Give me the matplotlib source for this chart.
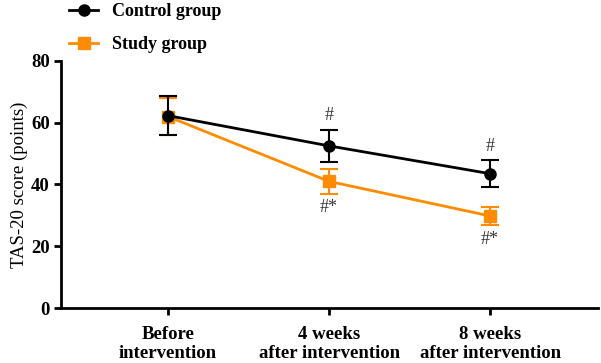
import matplotlib.pyplot as plt
import numpy as np

# Data
timepoints = ["Before\nintervention", "4 weeks\nafter intervention", "8 weeks\nafter intervention"]
control_mean = [62.3, 52.5, 43.5]
control_sd = [6.3, 5.2, 4.4]
study_mean = [62.0, 41.0, 29.8]
study_sd = [6.0, 4.0, 3.0]
control_marks = ["", "#", "#"]
study_marks = ["", "#*", "#*"]

plt.rcParams['font.family'] = ['Liberation Serif', 'DejaVu Serif']

x = np.arange(len(timepoints))

fig = plt.figure(figsize=(6.01, 3.63), dpi=100)
ax = fig.add_axes([0.1015, 0.1515, 0.8935, 0.6805])

orange = '#ff8c00'
eb_study = ax.errorbar(x, study_mean, yerr=study_sd, color=orange, marker='s', markersize=8,
                       linewidth=2, elinewidth=1.5, capsize=6.5, capthick=1.5, zorder=2)
eb_ctrl = ax.errorbar(x, control_mean, yerr=control_sd, color='black', marker='o', markersize=8,
                      linewidth=2, elinewidth=1.5, capsize=6.5, capthick=1.5, zorder=3)

# Significance marks
for xi, m, sd, lab in zip(x, control_mean, control_sd, control_marks):
    if lab:
        ax.text(xi, m + sd + 1.8, lab, ha='center', va='bottom', fontsize=13, color='#333333')
for xi, m, sd, lab in zip(x, study_mean, study_sd, study_marks):
    if lab:
        ax.text(xi, m - sd - 1.8, lab, ha='center', va='top', fontsize=13, color='#333333')

ax.set_xlim(-0.665, 2.67)
ax.set_ylim(0, 80)
ax.set_yticks([0, 20, 40, 60, 80])
ax.set_xticks(x)
ax.set_xticklabels(timepoints, fontweight='bold', fontsize=13.5, linespacing=1.15)
for lbl in ax.get_yticklabels():
    lbl.set_fontweight('bold')
    lbl.set_fontsize(13.5)
ax.set_ylabel('TAS-20 score (points)', fontsize=13.5, labelpad=2)

ax.spines['top'].set_visible(False)
ax.spines['right'].set_visible(False)
ax.spines['left'].set_linewidth(2)
ax.spines['bottom'].set_linewidth(2)
ax.tick_params(width=2, length=5)
ax.tick_params(axis='x', pad=8)
ax.tick_params(axis='y', pad=3)

ax.legend([eb_ctrl[0], eb_study[0]], ['Control group', 'Study group'], loc='lower left',
          bbox_to_anchor=(-0.005, 0.988), frameon=False, prop={'weight': 'bold', 'size': 13},
          labelspacing=0.9, handlelength=1.6, handletextpad=0.8, borderaxespad=0.2)

fig.savefig('out.png', dpi=100)
